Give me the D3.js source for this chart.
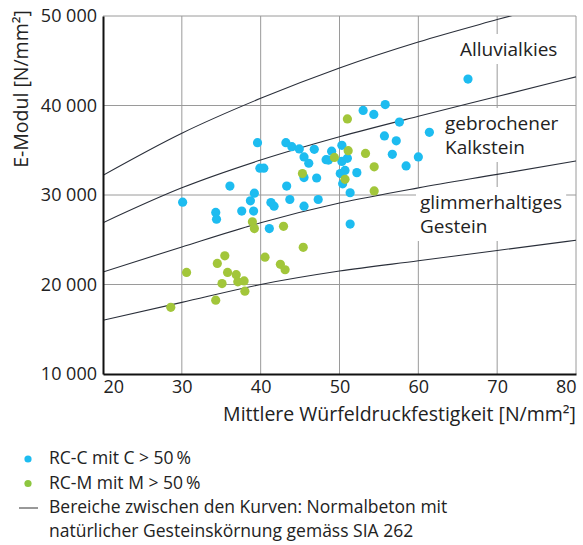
<!DOCTYPE html>
<html>
<head>
<meta charset="utf-8">
<script src="https://cdn.jsdelivr.net/npm/d3@7"></script>
<style>
  body { margin: 0; background: #fff; }
  svg text { font-family: "Open Sans", "Noto Sans", sans-serif; fill: #222; }
</style>
</head>
<body>
<svg id="chart" width="583" height="545"></svg>
<script>
// tick values
const xTicks = [20, 30, 40, 50, 60, 70, 80];
const yTicks = [10000, 20000, 30000, 40000, 50000];

// RC-C points (fcm, E)
const rcC = [
  [30.1, 29200], [34.3, 28050], [34.4, 27300], [36.1, 31000], [37.6, 28200],
  [38.7, 29350], [39.2, 30200], [39.1, 28200], [39.6, 35850], [39.9, 33000],
  [40.4, 33000], [41.1, 26250], [41.3, 29150], [41.7, 28750], [43.2, 35850],
  [43.95, 35400], [44.9, 35150], [43.3, 31000], [43.7, 29500], [45.5, 34250],
  [46.1, 33550], [45.5, 31950], [45.5, 28750], [46.8, 35100], [47.1, 31900],
  [47.3, 29500], [48.3, 33950], [48.6, 33900], [49.0, 34900], [50.3, 35550],
  [50.3, 33750], [51.0, 34100], [50.7, 32750], [50.1, 32400], [52.2, 32500],
  [50.4, 31250], [51.35, 30250], [51.35, 26750], [53.0, 39450], [54.35, 39000],
  [55.8, 40100], [57.6, 38150], [55.7, 36600], [57.2, 36050], [56.7, 34550],
  [58.45, 33250], [60.0, 34250], [61.4, 37000], [66.3, 42950]
];

// RC-M points (fcm, E)
const rcM = [
  [28.6, 17450], [30.6, 21350], [34.5, 22350], [35.45, 23200], [35.8, 21350],
  [35.1, 20100], [34.3, 18250], [36.9, 21100], [37.1, 20300], [37.9, 20400],
  [38.0, 19250], [38.95, 27000], [39.2, 26250], [40.55, 23050], [42.5, 22250],
  [43.1, 21650], [42.9, 26500], [45.4, 24150], [45.3, 32400], [49.35, 34200],
  [51.1, 34950], [51.0, 38500], [50.7, 31750], [53.3, 34650], [54.4, 33150],
  [54.4, 30450]
];

// SIA 262 boundary curves, read at x = 20..80
const curveX = [20, 30, 40, 50, 60, 70, 80];
const curve1 = [32200, 36900, 40800, 44200, 47100, 49600, 52000];
const curve2 = [26900, 30800, 33900, 36500, 38800, 41000, 43200];
const curve3 = [21400, 24200, 26900, 29100, 30800, 32300, 33800];
const curve4 = [16000, 18000, 20000, 21500, 22650, 23800, 24950];

const regionLabels = [
  {lines: ["Alluvialkies"], x: 460, y: 56},
  {lines: ["gebrochener", "Kalkstein"], x: 445, y: 130},
  {lines: ["glimmerhaltiges", "Gestein"], x: 420, y: 209}
];

const legendItems = [
  {type: "dot", color: "#1dbcf0", lines: ["RC-C mit C > 50\u2009%"]},
  {type: "dot", color: "#8dc63f", lines: ["RC-M mit M > 50\u2009%"]},
  {type: "line", color: "#333", lines: ["Bereiche zwischen den Kurven: Normalbeton mit",
                                         "natürlicher Gesteinskörnung gemäss SIA 262"]}
];

const blue = "#1dbcf0", green = "#a2c63a";

const svg = d3.select("#chart");
const pLeft = 103, pRight = 576, pTop = 16, pBottom = 374;

const x = d3.scaleLinear().domain([20, 80]).range([pLeft, pRight]);
const y = d3.scaleLinear().domain([10000, 50000]).range([pBottom, pTop]);

const fmt = v => d3.format(",")(v).replace(",", " ");

// grid
svg.append("g").selectAll("line")
    .data(xTicks.slice(1))
    .enter().append("line")
    .attr("x1", d => x(d)).attr("x2", d => x(d))
    .attr("y1", pTop).attr("y2", pBottom)
    .attr("stroke", "#9a9a9a").attr("stroke-width", 1);
svg.append("g").selectAll("line")
    .data(yTicks.slice(1))
    .enter().append("line")
    .attr("x1", pLeft).attr("x2", pRight)
    .attr("y1", d => y(d)).attr("y2", d => y(d))
    .attr("stroke", "#9a9a9a").attr("stroke-width", 1);

// white boxes behind the region labels, one text per line
const labelG = svg.append("g");
regionLabels.forEach(l => {
  const g = labelG.append("g");
  const rect = g.append("rect").attr("fill", "#fff");
  l.lines.forEach((s, i) => {
    g.append("text")
        .attr("x", l.x).attr("y", l.y + i * 24)
        .style("font-size", "19px")
        .text(s);
  });
  const bb = g.node().getBBox();
  rect.attr("x", bb.x - 4).attr("y", bb.y - 2)
      .attr("width", bb.width + 8).attr("height", bb.height + 4);
});

// curves
svg.append("clipPath").attr("id", "plotclip")
    .append("rect")
    .attr("x", pLeft).attr("y", pTop)
    .attr("width", pRight - pLeft).attr("height", pBottom - pTop);

const line = d3.line()
    .x((d, i) => x(curveX[i]))
    .y(d => y(d))
    .curve(d3.curveMonotoneX);

svg.append("g").attr("clip-path", "url(#plotclip)")
    .selectAll("path")
    .data([curve1, curve2, curve3, curve4])
    .enter().append("path")
    .attr("d", line)
    .attr("fill", "none")
    .attr("stroke", "#2a2f3a")
    .attr("stroke-width", 1.1);

// axes
const xAxis = d3.axisBottom(x).tickValues(xTicks).tickSize(0).tickPadding(6);
const yAxis = d3.axisLeft(y).tickValues(yTicks).tickSize(0).tickPadding(6).tickFormat(fmt);

const gx = svg.append("g")
    .attr("transform", "translate(0," + pBottom + ")")
    .call(xAxis);
gx.select(".domain").attr("stroke", "#111").attr("stroke-width", 2);
gx.selectAll("text").style("font-size", "18px").attr("fill", "#222")
    .style("font-family", "\"Open Sans\", sans-serif");
// first and last labels sit inside the axis ends
gx.selectAll("text").filter(d => d === 20).attr("text-anchor", "start").attr("x", 0);
gx.selectAll("text").filter(d => d === 80).attr("text-anchor", "end").attr("x", 0);

const gy = svg.append("g")
    .attr("transform", "translate(" + pLeft + ",0)")
    .call(yAxis);
gy.select(".domain").attr("stroke", "#111").attr("stroke-width", 2);
gy.selectAll("text").style("font-size", "18px").attr("fill", "#222")
    .style("font-family", "\"Open Sans\", sans-serif");

// axis titles
svg.append("text")
    .attr("x", pRight).attr("y", 421)
    .attr("text-anchor", "end")
    .style("font-size", "19.5px")
    .text("Mittlere Würfeldruckfestigkeit [N/mm²]");

svg.append("text")
    .attr("transform", "translate(28,89) rotate(-90)")
    .attr("text-anchor", "middle")
    .style("font-size", "19.5px")
    .text("E-Modul [N/mm²]");

// points
svg.append("g").selectAll("circle")
    .data(rcC)
    .enter().append("circle")
    .attr("cx", d => x(d[0])).attr("cy", d => y(d[1]))
    .attr("r", 4.6)
    .attr("fill", blue);

svg.append("g").selectAll("circle")
    .data(rcM)
    .enter().append("circle")
    .attr("cx", d => x(d[0])).attr("cy", d => y(d[1]))
    .attr("r", 4.6)
    .attr("fill", green);

// legend
let ly = 459;
legendItems.forEach(item => {
  if (item.type === "dot") {
    svg.append("circle").attr("cx", 28).attr("cy", ly).attr("r", 3.6).attr("fill", item.color);
  } else {
    svg.append("line").attr("x1", 19).attr("x2", 38).attr("y1", ly).attr("y2", ly)
        .attr("stroke", item.color).attr("stroke-width", 1);
  }
  item.lines.forEach((s, i) => {
    svg.append("text")
        .attr("x", 49).attr("y", ly + 5 + i * 24)
        .style("font-size", "17.5px")
        .text(s);
  });
  ly += 24.5 * item.lines.length;
});
</script>
</body>
</html>
